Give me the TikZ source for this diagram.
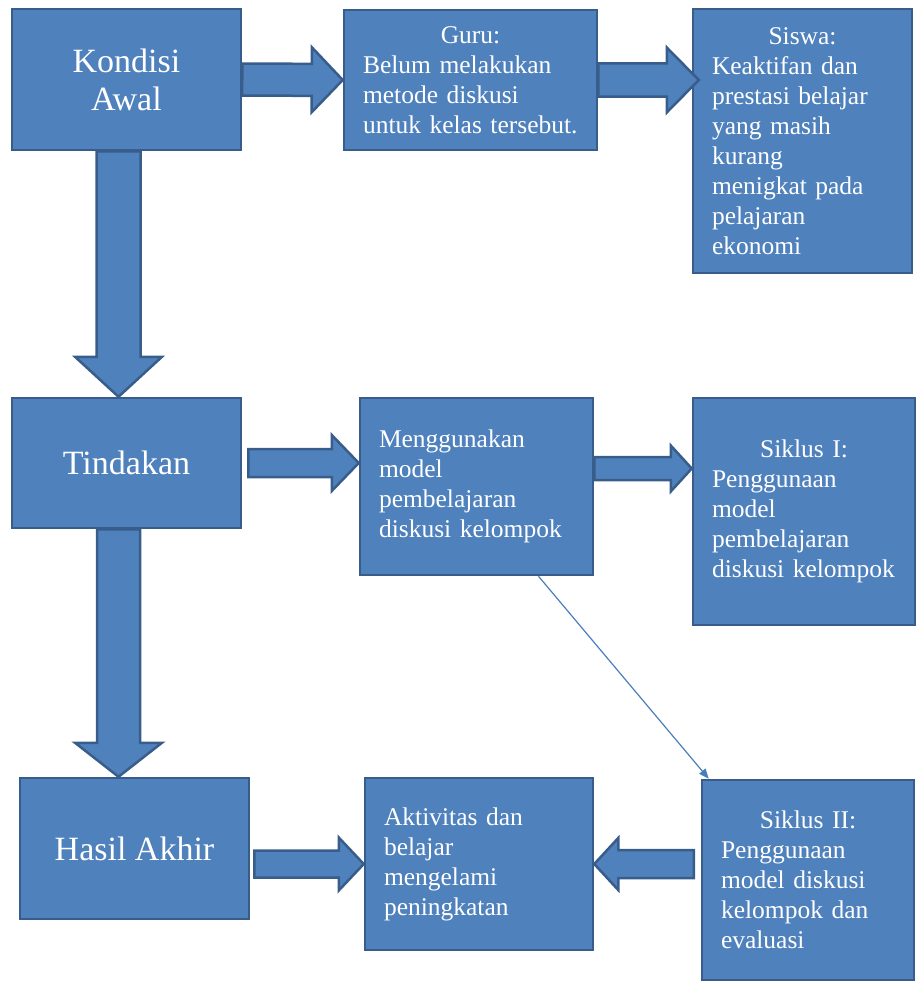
\documentclass[tikz,border=0pt]{standalone}
\usepackage{fontspec}
\setmainfont{Liberation Serif}
\usetikzlibrary{calc,arrows.meta}
\definecolor{boxfill}{HTML}{4F81BD}
\definecolor{boxline}{HTML}{385D8A}
\definecolor{tipis}{HTML}{4A7EBB}
\tikzset{
  kotak/.style={draw=boxline, fill=boxfill, line width=2.5pt, text=white,
    inner xsep=19pt, inner ysep=0pt, align=left,
    font=\fontsize{25.5}{30}\selectfont},
  besar/.style={kotak, align=center, font=\fontsize{34}{38}\selectfont},
  % panah blok: setengah batang, setengah kepala, panjang kepala
  panah/.style n args={3}{draw=boxline, fill=boxfill, line width=2.5pt, line join=miter,
    to path={($(\tikztostart)!#1!90:(\tikztotarget)$)
      -- ($($(\tikztotarget)!#3!(\tikztostart)$)!#1!90:(\tikztotarget)$)
      -- ($($(\tikztotarget)!#3!(\tikztostart)$)!#2!90:(\tikztotarget)$)
      -- (\tikztotarget)
      -- ($($(\tikztotarget)!#3!(\tikztostart)$)!#2!-90:(\tikztotarget)$)
      -- ($($(\tikztotarget)!#3!(\tikztostart)$)!#1!-90:(\tikztotarget)$)
      -- ($(\tikztostart)!#1!-90:(\tikztotarget)$) -- cycle}}
}
\begin{document}
\begin{tikzpicture}[x=1pt, y=-1pt]
    \useasboundingbox (0,0) rectangle (921,982);

    % Baris atas
    \node[besar, minimum width=229pt, minimum height=141pt] (ka) at (126.5,79.5) {Kondisi\\Awal};
    \node[kotak, text width=215pt, minimum height=140pt] (guru) at (470.5,80)
        {\makebox[\linewidth]{Guru:}\\Belum melakukan\\metode diskusi\\untuk kelas tersebut.};
    \node[kotak, text width=181pt, minimum height=264pt] (siswa) at (802.5,141)
        {\makebox[\linewidth]{Siswa:}\\Keaktifan dan\\prestasi belajar\\yang masih\\kurang\\menigkat pada\\pelajaran\\ekonomi};

    % Baris tengah
    \node[besar, minimum width=229pt, minimum height=130pt] (tind) at (126.5,463) {Tindakan};
    \node[kotak, text width=195pt, minimum height=177pt] (meng) at (476.5,486.5)
        {Menggunakan\\model\\pembelajaran\\diskusi kelompok};
    \node[kotak, text width=184pt, minimum height=227pt] (sik1) at (804,511.5)
        {\makebox[\linewidth]{Siklus I:}\\Penggunaan\\model\\pembelajaran\\diskusi kelompok};

    % Baris bawah
    \node[besar, minimum width=229pt, minimum height=141pt] (hasil) at (134.5,848.5) {Hasil Akhir};
    \node[kotak, text width=190pt, minimum height=172pt] (akt) at (479,864)
        {Aktivitas dan\\belajar\\mengelami\\peningkatan};
    \node[kotak, text width=174pt, minimum height=200pt] (sik2) at (808,880)
        {\makebox[\linewidth]{Siklus II:}\\Penggunaan\\model diskusi\\kelompok dan\\evaluasi};

    % Panah blok
    \draw[panah={16pt}{32.5pt}{31pt}] (ka.east) to (guru.west);
    \draw[panah={16.5pt}{32.5pt}{32pt}] (guru.east) to ([xshift=7pt]guru.east -| siswa.west);
    \draw[panah={22pt}{43.5pt}{40pt}] ([xshift=-8pt]ka.south) to ([xshift=-8pt]tind.north);
    \draw[panah={21.5pt}{43.5pt}{34pt}] ([xshift=-8pt]tind.south) to ([xshift=-8pt]tind.south |- hasil.north);
    \draw[panah={14pt}{28pt}{27pt}] ([xshift=6pt]tind.east) to (tind.east -| meng.west);
    \draw[panah={11.5pt}{23pt}{21pt}] ([yshift=18pt]meng.east) to ([yshift=18pt]meng.east -| sik1.west);
    \draw[panah={13.5pt}{26.5pt}{25pt}] ([xshift=4pt]hasil.east |- akt.west) to (akt.west);
    \draw[panah={14pt}{26pt}{24pt}] ([xshift=-7pt]sik2.west |- akt.east) to (akt.east);

    % Panah tipis
    \draw[tipis, line width=1.2pt, -{Triangle[length=10pt,width=8pt]}]
        ([xshift=62pt]meng.south) -- ([xshift=8pt]sik2.north west);
\end{tikzpicture}
\end{document}
